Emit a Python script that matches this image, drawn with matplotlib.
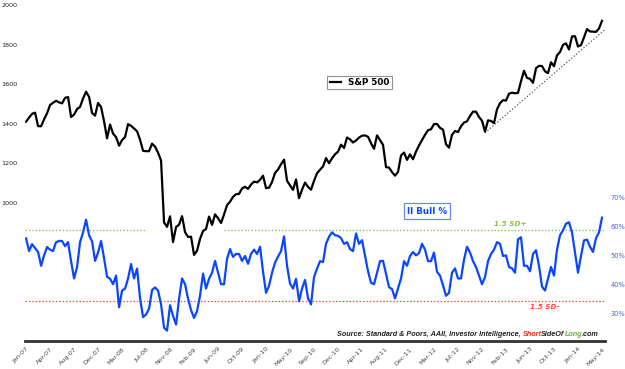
import numpy as np
import matplotlib
matplotlib.use("Agg")
import matplotlib.pyplot as plt
from matplotlib.lines import Line2D
import datetime as dt

# ---------------- data (biweekly, starting 2007-01-05) ----------------
start_date = "2007-01-05"
step_days = 14

sp500 = [1409, 1430, 1449, 1455, 1387, 1386, 1421, 1452, 1494, 1505,
         1515, 1507, 1502, 1530, 1534, 1433, 1445, 1473, 1484, 1527,
         1561, 1535, 1453, 1440, 1504, 1484, 1411, 1325, 1395, 1349,
         1331, 1288, 1316, 1332, 1397, 1388, 1375, 1361, 1318, 1262,
         1260, 1260, 1298, 1283, 1252, 1213, 899, 877, 930, 800,
         876, 888, 931, 850, 826, 827, 735, 756, 816, 856,
         866, 929, 887, 940, 921, 896, 940, 987, 1004, 1029,
         1042, 1044, 1071, 1080, 1069, 1091, 1106, 1102, 1115, 1136,
         1073, 1075, 1104, 1150, 1167, 1194, 1217, 1110, 1087, 1064,
         1117, 1022, 1065, 1101, 1079, 1065, 1110, 1148, 1166, 1183,
         1225, 1199, 1224, 1244, 1258, 1293, 1276, 1329, 1320, 1304,
         1314, 1329, 1338, 1340, 1333, 1300, 1272, 1340, 1316, 1292,
         1179, 1177, 1154, 1136, 1155, 1238, 1253, 1216, 1244, 1219,
         1258, 1289, 1316, 1343, 1366, 1371, 1397, 1398, 1378, 1369,
         1295, 1278, 1343, 1362, 1357, 1386, 1405, 1411, 1438, 1460,
         1460, 1433, 1414, 1359, 1416, 1413, 1402, 1472, 1503, 1518,
         1516, 1551, 1556, 1553, 1555, 1614, 1667, 1631, 1626, 1606,
         1680, 1692, 1691, 1664, 1655, 1710, 1690, 1745, 1762, 1798,
         1806, 1775, 1841, 1842, 1790, 1797, 1836, 1878, 1866, 1865,
         1864, 1881, 1920]

ii_bull = [55.9, 51.5, 53.9, 52.5, 51.2, 46.4, 50.0, 52.9, 52.0, 51.5,
           54.6, 55.0, 55.0, 53.2, 54.6, 48.0, 42.0, 46.0, 54.6, 58.0,
           62.4, 57.0, 54.9, 48.1, 51.0, 55.0, 49.0, 42.6, 41.9, 40.0,
           43.0, 32.0, 37.8, 38.5, 42.0, 47.0, 42.0, 45.4, 35.1, 28.6,
           29.5, 31.5, 38.0, 38.9, 37.8, 33.0, 24.9, 23.9, 32.7, 29.0,
           26.0, 35.0, 42.0, 40.0, 35.0, 31.0, 28.3, 30.7, 36.1, 43.7,
           38.5, 41.9, 44.0, 48.1, 44.0, 40.0, 40.0, 48.8, 52.2, 49.5,
           50.5, 50.5, 48.1, 49.8, 47.1, 50.5, 52.0, 50.5, 53.0, 44.3,
           37.0, 39.5, 44.0, 47.5, 49.6, 51.5, 56.6, 46.4, 40.2, 38.5,
           41.9, 34.1, 38.5, 41.5, 35.1, 33.0, 42.5, 45.4, 48.0, 47.7,
           54.0, 56.5, 58.0, 57.0, 56.8, 56.0, 54.0, 54.6, 52.2, 51.5,
           57.6, 54.0, 55.3, 50.0, 44.5, 40.5, 40.0, 44.0, 48.0, 48.1,
           43.5, 39.0, 38.3, 35.1, 38.5, 42.0, 48.0, 46.4, 49.8, 51.2,
           50.0, 50.8, 54.0, 52.0, 48.0, 48.0, 51.0, 44.3, 43.0, 39.6,
           36.0, 37.0, 44.0, 45.5, 42.0, 42.0, 48.5, 53.0, 51.0, 48.0,
           46.0, 43.0, 40.0, 42.5, 48.0, 50.5, 52.0, 54.6, 54.0, 49.8,
           50.0, 46.0, 45.5, 44.0, 55.6, 56.3, 46.4, 46.4, 44.5, 50.5,
           51.8, 46.4, 39.2, 37.8, 41.9, 46.0, 43.0, 52.0, 57.0, 58.7,
           61.0, 61.5, 58.0, 51.0, 44.0, 49.8, 55.2, 55.5, 53.0, 51.2,
           56.0, 58.0, 63.1]

sd_plus = 58.8
sd_minus = 34.3
green_spans = [("2007-01-01", "2008-07-20"), ("2009-07-15", "2014-05-26")]
red_span = ("2006-12-30", "2014-05-26")
trend_pts = [("2012-11-16", 1353), ("2014-06-08", 1884)]

tick_start = "2007-01-05"
tick_step_days = 112
n_ticks = 25

left_ticks = [1000, 1200, 1400, 1600, 1800, 2000]
right_ticks = [30, 40, 50, 60, 70]

# ---------------- figure ----------------
d0 = dt.datetime.strptime(start_date, "%Y-%m-%d")
dates = [d0 + dt.timedelta(days=step_days * i) for i in range(len(sp500))]
def D(s):
    return dt.datetime.strptime(s, "%Y-%m-%d")

fig = plt.figure(figsize=(6.25, 3.69), dpi=100)
ax = fig.add_axes([25/625, 1-341/369, 580/625, 336/369])
ax2 = ax.twinx()

ax.plot(dates, sp500, color="black", lw=1.6, zorder=3)
ax.plot([D(a) for a, _ in trend_pts], [b for _, b in trend_pts],
        color="#555555", lw=0.9, ls=(0, (1, 1.6)), zorder=2)

ax2.plot(dates, ii_bull, color="#0a46ff", lw=1.6, zorder=3)
for a, b in green_spans:
    ax2.plot([D(a), D(b)], [sd_plus, sd_plus], color="#8bc34a", lw=0.9,
             ls=(0, (1.2, 1.5)), zorder=2)
ax2.plot([D(red_span[0]), D(red_span[1])], [sd_minus, sd_minus],
         color="#ff4a3d", lw=0.9, ls=(0, (1.2, 1.5)), zorder=2)

ax.set_xlim(D("2006-12-31"), D("2014-05-30"))
ax.set_ylim(299, 2000)
ax2.set_ylim(20.3, 136.9)

ax.set_yticks(left_ticks)
ax.set_yticklabels([str(v) for v in left_ticks])
ax2.set_yticks(right_ticks)
ax2.set_yticklabels([f"{v}%" for v in right_ticks])

t0 = D(tick_start)
xt = [t0 + dt.timedelta(days=tick_step_days * i) for i in range(n_ticks)]
ax.set_xticks(xt)
ax.set_xticklabels([t.strftime("%b-%y") for t in xt])

for a in (ax, ax2):
    for s in ("top", "left", "right", "bottom"):
        a.spines[s].set_visible(False)
ax.spines["bottom"].set_visible(True)
ax.spines["bottom"].set_color("#333333")
ax.spines["bottom"].set_linewidth(2.0)

ax.tick_params(axis="y", length=0, pad=5.5, labelsize=4.6, labelcolor="#222222")
ax2.tick_params(axis="y", length=0, pad=4, labelsize=4.8, labelcolor="#4b63d8")
ax.tick_params(axis="x", length=0, pad=4, labelsize=4.6, labelcolor="#444444")
for lab in ax.get_xticklabels():
    lab.set_rotation(45)
    lab.set_ha("right")
    lab.set_va("top")
    lab.set_rotation_mode("anchor")

# legend S&P 500
h = [Line2D([0], [0], color="black", lw=1.6)]
leg = fig.legend(h, ["S&P 500"], loc="center", bbox_to_anchor=(359.5/625, 1-82.5/369),
                 fontsize=6.3, frameon=True, fancybox=False, handlelength=1.3,
                 handletextpad=0.8, borderpad=0.25, borderaxespad=0)
leg.get_frame().set_edgecolor("#777777")
leg.get_frame().set_linewidth(0.8)
for t in leg.get_texts():
    t.set_fontweight("bold")

# II Bull % box
fig.text(427/625, 1-211/369, "II Bull %", ha="center", va="center", fontsize=6.3,
         fontweight="bold", color="#0a46ff",
         bbox=dict(boxstyle="square,pad=0.35", fc="white", ec="#6b86f0", lw=0.9))

fig.text(510/625, 1-224/369, "1.5 SD+", ha="center", va="center", fontsize=5.2,
         fontstyle="italic", fontweight="bold", color="#8bc34a")
fig.text(545/625, 1-307/369, "1.5 SD-", ha="center", va="center", fontsize=5.2,
         fontstyle="italic", fontweight="bold", color="#ff4a3d")

# source line, multicolored, right aligned
parts = [("Source: Standard & Poors, AAII, Investor Intelligence, ", "#222222"),
         ("Short", "#ff2a1a"), ("SideOf", "#222222"), ("Long", "#6ab04c"),
         (".com", "#222222")]
fig.canvas.draw()
renderer = fig.canvas.get_renderer()
xr = 599 / 625
ysrc = 1 - 334 / 369
for txt, col in reversed(parts):
    t = fig.text(xr, ysrc, txt, ha="right", va="center", fontsize=5.2,
                 family="Liberation Sans", fontstyle="italic", fontweight="bold",
                 color=col)
    bb = t.get_window_extent(renderer)
    xr = bb.x0 / fig.bbox.width

fig.savefig("out.png", dpi=100)
